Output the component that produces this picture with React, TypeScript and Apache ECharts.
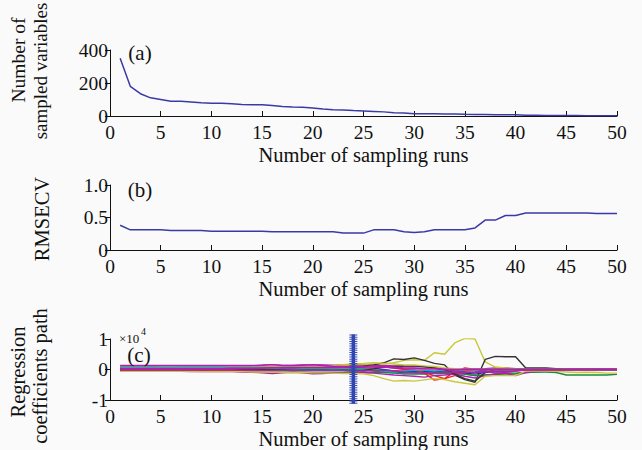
import React, { useEffect, useRef } from "react";
import * as echarts from "echarts";

// x positions: sampling runs 1..50
const runs: number[] = Array.from({ length: 50 }, (_, i) => i + 1);
const xTicks = { min: 0, max: 50, interval: 5 };

// (a) number of sampled variables
const sampledVars = [
  350, 180, 135, 110, 100, 90, 89, 85, 80, 78,
  77, 74, 70, 68, 68, 63, 58, 54, 53, 48,
  42, 38, 36, 33, 31, 28, 25, 20, 18, 14,
  13, 13, 12, 12, 10, 9, 9, 8, 8, 7,
  4, 4, 3, 3, 3, 3, 2, 2, 2, 2,
];

// (b) RMSECV
const rmsecv = [
  0.38, 0.31, 0.31, 0.31, 0.31, 0.30, 0.30, 0.30, 0.30, 0.29,
  0.29, 0.29, 0.29, 0.29, 0.29, 0.28, 0.28, 0.28, 0.28, 0.28,
  0.28, 0.28, 0.26, 0.26, 0.26, 0.31, 0.31, 0.31, 0.28, 0.27,
  0.28, 0.31, 0.31, 0.31, 0.31, 0.34, 0.46, 0.46, 0.53, 0.53,
  0.57, 0.57, 0.57, 0.57, 0.57, 0.57, 0.57, 0.56, 0.56, 0.56,
];

// (c) regression coefficient paths (units of 1e4)
const coefBlue1 = [
  0.02, 0.02, 0.02, 0.02, 0.02, 0.02, 0.02, 0.03, 0.03, 0.03,
  0.03, 0.03, 0.03, 0.04, 0.04, 0.04, 0.04, 0.05, 0.05, 0.05,
  0.05, 0.06, 0.06, 0.06, 0.05, 0.03, 0.0, -0.05, -0.08, -0.1,
  -0.1, -0.1, -0.1, -0.12, -0.12, -0.15, -0.1, -0.05, -0.02, 0,
  0, 0, 0, 0, 0, 0, 0, 0, 0, 0,
];
const coefGreen1 = [
  -0.04, -0.04, -0.04, -0.04, -0.05, -0.05, -0.05, -0.05, -0.05, -0.06,
  -0.06, -0.06, -0.06, -0.07, -0.07, -0.07, -0.08, -0.08, -0.08, -0.09,
  -0.09, -0.09, -0.1, -0.1, -0.1, -0.1, -0.1, -0.12, -0.12, -0.12,
  -0.12, -0.13, -0.13, -0.14, -0.15, -0.2, -0.18, -0.16, -0.15, -0.14,
  -0.1, -0.08, -0.08, -0.1, -0.18, -0.18, -0.18, -0.18, -0.18, -0.16,
];
const coefRed1 = [
  0.04, 0.04, 0.04, 0.04, 0.04, 0.05, 0.05, 0.05, 0.05, 0.05,
  0.05, 0.06, 0.06, 0.07, 0.07, 0.06, 0.05, 0.04, 0.03, 0.02,
  0.02, 0.02, 0.01, 0.0, -0.02, -0.04, -0.05, -0.05, -0.05, -0.06,
  -0.12, -0.35, -0.3, -0.06, 0.05, 0, 0, 0, 0, 0,
  0, 0, 0, 0, 0, 0, 0, 0, 0, 0,
];
const coefCyan1 = [
  0.0, 0.0, 0.0, 0.0, 0.0, 0.0, 0.0, -0.01, -0.01, -0.01,
  -0.01, -0.01, -0.02, -0.02, -0.02, -0.02, -0.02, -0.03, -0.03, -0.03,
  -0.03, -0.03, -0.04, -0.05, -0.05, -0.02, -0.05, -0.1, -0.12, -0.1,
  -0.08, -0.06, -0.05, -0.05, -0.04, -0.03, -0.02, -0.1, -0.05, 0,
  0, 0, 0, 0, 0, 0, 0, 0, 0, 0,
];
const coefMagenta1 = [
  0.1, 0.1, 0.1, 0.1, 0.11, 0.11, 0.11, 0.11, 0.11, 0.11,
  0.11, 0.12, 0.12, 0.12, 0.14, 0.16, 0.13, 0.13, 0.15, 0.16,
  0.15, 0.14, 0.15, 0.16, 0.15, 0.14, 0.13, 0.12, 0.1, 0.1,
  0.08, 0.06, 0.03, 0.0, 0.0, 0.02, 0.03, 0.05, 0.05, 0.03,
  0.02, 0.02, 0.01, 0.01, 0, 0, 0, 0, 0, 0,
];
const coefYellow1 = [
  0.03, 0.03, 0.03, 0.04, 0.04, 0.04, 0.04, 0.05, 0.05, 0.05,
  0.05, 0.06, 0.06, 0.06, 0.07, 0.07, 0.08, 0.08, 0.09, 0.1,
  0.1, 0.11, 0.12, 0.13, 0.15, 0.17, 0.18, 0.22, 0.3, 0.32,
  0.3, 0.55, 0.5, 0.87, 1.02, 1.0, 0.25, 0.08, 0.05, 0.03,
  0.02, 0.01, 0, 0, 0, 0, 0, 0, 0, 0,
];
const coefBlack1 = [
  0.05, 0.05, 0.05, 0.05, 0.05, 0.05, 0.05, 0.05, 0.05, 0.05,
  0.05, 0.05, 0.06, 0.06, 0.06, 0.06, 0.07, 0.07, 0.07, 0.08,
  0.08, 0.08, 0.09, 0.1, 0.12, 0.15, 0.22, 0.35, 0.33, 0.38,
  0.3, 0.2, 0.15, -0.18, -0.33, -0.42, 0.33, 0.43, 0.42, 0.42,
  0.05, 0.05, 0.05, 0.03, 0, 0, 0, 0, 0, 0,
];
const coefYellow2 = [
  -0.06, -0.06, -0.06, -0.06, -0.06, -0.06, -0.06, -0.06, -0.07, -0.07,
  -0.07, -0.07, -0.07, -0.08, -0.08, -0.08, -0.09, -0.1, -0.1, -0.11,
  -0.11, -0.12, -0.13, -0.13, -0.14, -0.2, -0.3, -0.38, -0.36, -0.38,
  -0.34, -0.3, -0.33, -0.4, -0.45, -0.5, -0.22, -0.2, -0.2, -0.2,
  -0.05, -0.05, -0.05, -0.06, -0.08, -0.1, -0.09, -0.1, -0.12, -0.12,
];
const coefBlue2 = [
  0.06, 0.06, 0.06, 0.06, 0.06, 0.06, 0.07, 0.07, 0.07, 0.07,
  0.07, 0.07, 0.08, 0.08, 0.08, 0.08, 0.08, 0.09, 0.09, 0.09,
  0.09, 0.09, 0.08, 0.06, 0.02, -0.02, -0.06, -0.08, -0.08, -0.07,
  -0.06, -0.06, -0.08, -0.1, -0.12, -0.1, 0, 0, 0, 0,
  0, 0, 0, 0, 0, 0, 0, 0, 0, 0,
];
const coefGreen2 = [
  0.01, 0.01, 0.01, 0.01, 0.01, 0.01, 0.01, 0.01, 0.02, 0.02,
  0.02, 0.02, 0.02, 0.02, 0.02, 0.02, 0.02, 0.02, 0.02, 0.02,
  0.02, 0.02, 0.02, 0.02, 0.0, -0.05, -0.08, -0.1, -0.15, -0.15,
  -0.15, -0.12, -0.1, -0.12, -0.15, -0.2, -0.18, -0.15, -0.12, -0.12,
  -0.1, -0.08, -0.06, -0.04, 0, 0, 0, 0, 0, 0,
];
const coefRed2 = [
  -0.02, -0.02, -0.02, -0.02, -0.02, -0.02, -0.02, -0.02, -0.02, -0.02,
  -0.02, -0.02, -0.02, -0.02, 0.0, 0.02, 0.03, 0.03, 0.03, 0.03,
  0.03, 0.03, 0.03, 0.03, 0.02, 0.05, 0.1, 0.05, 0.0, -0.02,
  -0.1, -0.2, -0.3, -0.2, -0.05, 0, 0, 0, 0, 0,
  0, 0, 0, 0, 0, 0, 0, 0, 0, 0,
];
const coefCyan2 = [
  0.07, 0.07, 0.07, 0.07, 0.07, 0.07, 0.07, 0.07, 0.07, 0.07,
  0.06, 0.06, 0.06, 0.06, 0.06, 0.05, 0.04, 0.04, 0.04, 0.04,
  0.04, 0.04, 0.04, 0.03, 0.02, 0.0, -0.05, -0.08, -0.05, -0.02,
  -0.03, -0.05, -0.02, 0, 0, 0, 0, 0, 0, 0,
  0, 0, 0, 0, 0, 0, 0, 0, 0, 0,
];
const coefMagenta2 = [
  -0.06, -0.06, -0.06, -0.06, -0.06, -0.06, -0.06, -0.07, -0.07, -0.07,
  -0.07, -0.07, -0.08, -0.09, -0.11, -0.13, -0.11, -0.09, -0.11, -0.14,
  -0.13, -0.11, -0.11, -0.13, -0.1, -0.12, -0.15, -0.18, -0.2, -0.22,
  -0.25, -0.2, -0.18, -0.15, -0.22, -0.28, -0.2, -0.15, -0.12, -0.2,
  -0.1, -0.05, -0.05, -0.02, 0, 0, 0, 0, 0, 0,
];
const coefMagenta3 = [
  0.03, 0.03, 0.03, 0.03, 0.03, 0.03, 0.03, 0.03, 0.03, 0.03,
  0.03, 0.04, 0.04, 0.04, 0.05, 0.06, 0.05, 0.05, 0.06, 0.06,
  0.06, 0.06, 0.07, 0.08, 0.1, 0.12, 0.1, 0.08, 0.05, 0.05,
  0.02, 0.02, 0.0, -0.05, -0.08, -0.1, -0.08, -0.05, -0.06, -0.05,
  0, 0, 0, 0, 0, 0, 0, 0, 0, 0,
];
const coefMagenta4 = [
  -0.01, -0.01, -0.01, -0.01, -0.01, -0.01, -0.01, -0.01, -0.01, -0.01,
  -0.01, -0.01, -0.02, -0.02, -0.03, -0.03, -0.02, -0.02, -0.03, -0.03,
  -0.03, -0.03, -0.03, -0.04, -0.05, -0.03, -0.02, -0.05, -0.08, -0.1,
  -0.12, -0.1, -0.08, -0.1, -0.1, -0.08, -0.05, -0.12, -0.1, -0.05,
  -0.02, -0.02, -0.02, -0.01, -0.01, 0, 0, 0, 0, 0,
];
const coefBlack2 = [
  0.0, 0.0, 0.0, 0.0, 0.0, 0.0, 0.0, 0.0, 0.0, 0.0,
  0.0, 0.0, 0.0, 0.0, -0.01, -0.01, -0.01, -0.02, -0.02, -0.02,
  -0.02, -0.03, -0.03, -0.04, -0.03, 0.02, 0.08, 0.1, 0.12, 0.12,
  0.1, 0.05, 0.0, -0.15, -0.3, -0.38, -0.1, 0, 0, 0,
  0, 0, 0, 0, 0, 0, 0, 0, 0, 0,
];
const coefYellow3 = [
  0.12, 0.12, 0.12, 0.12, 0.12, 0.12, 0.12, 0.12, 0.12, 0.12,
  0.12, 0.12, 0.11, 0.11, 0.11, 0.11, 0.11, 0.11, 0.11, 0.11,
  0.11, 0.13, 0.16, 0.19, 0.2, 0.22, 0.2, 0.18, 0.15, 0.15,
  0.12, 0.1, 0.05, 0.03, 0, 0, 0, 0, 0, 0,
  0, 0, 0, 0, 0, 0, 0, 0, 0, 0,
];
const coefMagenta5 = [
  0.13, 0.13, 0.13, 0.13, 0.13, 0.13, 0.13, 0.13, 0.13, 0.13,
  0.13, 0.13, 0.13, 0.13, 0.14, 0.16, 0.13, 0.13, 0.14, 0.15,
  0.13, 0.11, 0.1, 0.1, 0.08, 0.08, 0.08, 0.05, 0.03, 0.02,
  0.02, 0.02, 0.01, 0.0, 0.0, 0.0, 0.0, 0.0, 0.0, 0.0,
  0, 0, 0, 0, 0, 0, 0, 0, 0, 0,
];

// selected run marker line (run 24)
const selectedRun = 24;
const selectedLineY = [-1.12, 1.15];

const C_BLUE = "#1f2fb0";
const C_GREEN = "#1a8a3a";
const C_RED = "#ee2222";
const C_CYAN = "#10b0c0";
const C_MAGENTA = "#b020b0";
const C_YELLOW = "#c8c83a";
const C_BLACK = "#333333";

const coefSeries: [number[], string][] = [
  [coefBlue1, C_BLUE],
  [coefGreen1, C_GREEN],
  [coefRed1, C_RED],
  [coefCyan1, C_CYAN],
  [coefMagenta1, C_MAGENTA],
  [coefYellow1, C_YELLOW],
  [coefBlack1, C_BLACK],
  [coefBlue2, C_BLUE],
  [coefGreen2, C_GREEN],
  [coefRed2, C_RED],
  [coefCyan2, C_CYAN],
  [coefMagenta2, C_MAGENTA],
  [coefYellow2, C_YELLOW],
  [coefBlack2, C_BLACK],
  [coefMagenta3, C_MAGENTA],
  [coefYellow3, C_YELLOW],
  [coefMagenta4, C_MAGENTA],
  [coefMagenta5, C_MAGENTA],
];

const FONT = "Liberation Serif";
const MAIN_LINE = "#3a3aa6";
const NAME_SIZE = 20.5;
const TICK_SIZE = 19.5;

export default function App() {
  const ref = useRef<HTMLDivElement>(null);
  useEffect(() => {
    if (!ref.current) return;
    const chart = echarts.init(ref.current, undefined, { renderer: "svg" });

    const mkX = (gi: number) => ({
      type: "value" as const,
      gridIndex: gi,
      min: xTicks.min,
      max: xTicks.max,
      interval: xTicks.interval,
      name: "Number of sampling runs",
      nameLocation: "middle" as const,
      nameGap: 28,
      nameTextStyle: { fontFamily: FONT, fontSize: NAME_SIZE, color: "#111" },
      axisLine: { show: true, onZero: false, lineStyle: { color: "#111", width: 1 } },
      axisTick: { show: true, inside: true, length: 5, lineStyle: { color: "#111" } },
      axisLabel: { fontFamily: FONT, fontSize: TICK_SIZE, color: "#111", margin: 6 },
      splitLine: { show: false },
    });
    const mkY = (gi: number, min: number, max: number, interval: number, fmt?: (v: number) => string) => ({
      type: "value" as const,
      gridIndex: gi,
      min,
      max,
      interval,
      axisLine: { show: true, lineStyle: { color: "#111", width: 1 } },
      axisTick: { show: true, inside: false, length: 5, lineStyle: { color: "#111" } },
      axisLabel: { fontFamily: FONT, fontSize: TICK_SIZE, color: "#111", margin: 2, formatter: fmt },
      splitLine: { show: false },
    });

    const series: any[] = [
      {
        type: "line",
        xAxisIndex: 0,
        yAxisIndex: 0,
        data: runs.map((r, i) => [r, sampledVars[i]]),
        showSymbol: false,
        lineStyle: { color: MAIN_LINE, width: 1.5 },
      },
      {
        type: "line",
        xAxisIndex: 1,
        yAxisIndex: 1,
        data: runs.map((r, i) => [r, rmsecv[i]]),
        showSymbol: false,
        lineStyle: { color: MAIN_LINE, width: 1.5 },
      },
    ];
    coefSeries.forEach(([vals, color]) => {
      series.push({
        type: "line",
        xAxisIndex: 2,
        yAxisIndex: 2,
        data: runs.map((r, i) => [r, vals[i]]),
        showSymbol: false,
        lineStyle: { color, width: 1.4 },
      });
    });
    series.push(
      {
        type: "line",
        xAxisIndex: 2,
        yAxisIndex: 2,
        clip: false,
        data: selectedLineY.map((y) => [selectedRun, y]),
        showSymbol: false,
        lineStyle: { color: "#2c3ea8", width: 3.5 },
        z: 5,
      },
      {
        type: "line",
        xAxisIndex: 2,
        yAxisIndex: 2,
        clip: false,
        data: selectedLineY.map((y) => [selectedRun, y]),
        showSymbol: false,
        lineStyle: { color: "#3a4cb8", width: 8, type: [1, 1.2] },
        z: 5,
      }
    );

    const txt = (x: number, y: number, text: string, size: number, rot = 0, align = "center") => ({
      type: "text",
      x,
      y,
      rotation: rot,
      style: {
        text,
        fontFamily: FONT,
        fontSize: size,
        fill: "#111",
        textAlign: align,
        textVerticalAlign: "middle",
      },
      z: 10,
    });

    chart.setOption({
      animation: false,
      backgroundColor: "#fafafa",
      grid: [
        { left: 110, right: 25, top: 50, height: 66 },
        { left: 110, right: 25, top: 185, height: 65 },
        { left: 110, right: 25, top: 339, height: 62 },
      ],
      xAxis: [mkX(0), mkX(1), mkX(2)],
      yAxis: [
        mkY(0, 0, 400, 200),
        mkY(1, 0, 1, 0.5, (v: number) => (v === 0 ? "0" : v.toFixed(1))),
        mkY(2, -1, 1, 1),
      ],
      series,
      graphic: [
        txt(18, 60, "Number of", 19.5, Math.PI / 2),
        txt(40, 71, "sampled variables", 19, Math.PI / 2),
        txt(42, 219, "RMSECV", NAME_SIZE, Math.PI / 2),
        txt(18, 372, "Regression", NAME_SIZE, Math.PI / 2),
        txt(40, 376, "coefficients path", NAME_SIZE, Math.PI / 2),
        txt(140, 53, "(a)", 21),
        txt(140, 190, "(b)", 21),
        txt(139, 355, "(c)", 21),
        txt(119, 338, "×10", 13, 0, "left"),
        txt(141, 331, "4", 10, 0, "left"),
      ],
    });
    return () => chart.dispose();
  }, []);
  return (
    <div
      ref={ref}
      style={{ position: "fixed", left: 0, top: 0, width: 642, height: 450 }}
    />
  );
}
